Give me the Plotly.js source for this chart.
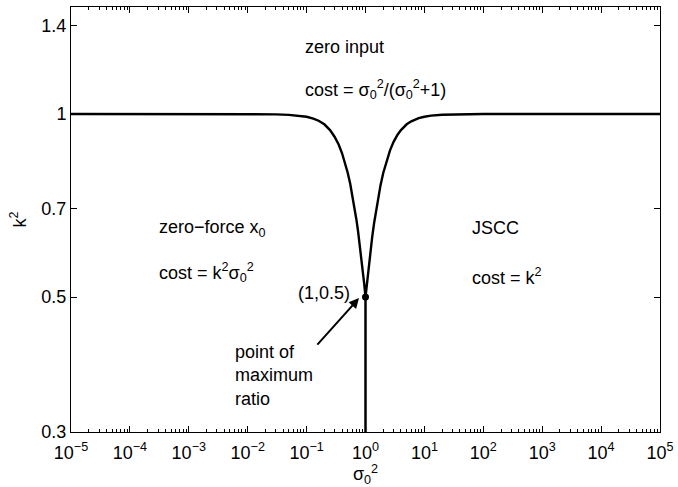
<!DOCTYPE html>
<html>
<head>
<meta charset="utf-8">
<script src="https://cdn.plot.ly/plotly-3.0.1.min.js"></script>
<style>html,body{margin:0;padding:0;background:#fff;}#chart{width:678px;height:487px;}</style>
</head>
<body>
<div id="chart"></div>
<script>
// Boundary curve k^2 vs sigma_0^2
const sigmaLeft = [1e-5, 1e-3, 1e-2, 0.03, 0.05, 0.08, 0.1, 0.13, 0.16, 0.2, 0.25, 0.3, 0.35, 0.4, 0.45, 0.5, 0.55, 0.6, 0.65, 0.7, 0.75, 0.8, 0.85, 0.9, 0.95, 1];
const kLeft     = [1, 1, 1, 0.999, 0.997, 0.994, 0.99, 0.983, 0.975, 0.962, 0.941, 0.917, 0.891, 0.862, 0.832, 0.8, 0.768, 0.735, 0.703, 0.671, 0.64, 0.61, 0.58, 0.552, 0.526, 0.5];
const sigmaRight = [1, 1.05, 1.1, 1.2, 1.3, 1.4, 1.5, 1.6, 1.8, 2, 2.3, 2.6, 3, 3.5, 4, 5, 6, 8, 10, 13, 20, 35, 100, 1000, 1e5];
const kRight     = [0.5, 0.524, 0.548, 0.59, 0.628, 0.662, 0.692, 0.719, 0.764, 0.8, 0.841, 0.871, 0.9, 0.925, 0.941, 0.962, 0.973, 0.985, 0.99, 0.994, 0.9975, 0.999, 1, 1, 1];
// Vertical boundary at sigma_0^2 = 1
const sigmaVert = [1, 1];
const kVert     = [0.3, 0.5];
// Special point
const pointX = [1];
const pointY = [0.5];
// Tick labels
const xExponents = [-5, -4, -3, -2, -1, 0, 1, 2, 3, 4, 5];
const yTickVals = [0.3, 0.5, 0.7, 1, 1.4];
const yTickText = ['0.3', '0.5', '0.7', '1', '1.4'];

const xTickVals = xExponents.map(e => Math.pow(10, e));
const xTickText = xExponents.map(e => '10<sup>' + (e < 0 ? '−' + (-e) : e) + '</sup>');
const xMinorVals = [];
xExponents.slice(0, -1).forEach(e => { for (let m = 2; m <= 9; m++) xMinorVals.push(m * Math.pow(10, e)); });

const FONT = 'Liberation Sans, Arial, Helvetica, sans-serif';
const FS = 18;
const lineStyle = {color: 'black', width: 2.4};

const traces = [
  {x: sigmaLeft.concat(sigmaRight), y: kLeft.concat(kRight), mode: 'lines', line: lineStyle, hoverinfo: 'skip'},
  {x: sigmaVert, y: kVert, mode: 'lines', line: {color: 'black', width: 2.5}, hoverinfo: 'skip'},
  {x: pointX, y: pointY, mode: 'markers', marker: {color: 'black', size: 7}, hoverinfo: 'skip'}
];

const txt = (text, x, y, xa) => ({text, x, y, xref: 'paper', yref: 'paper', xanchor: xa || 'left', yanchor: 'middle', showarrow: false, font: {size: FS, color: 'black', family: FONT}});

const layout = {
  width: 678, height: 487,
  margin: {l: 71, r: 18, t: 7, b: 55},
  paper_bgcolor: 'white', plot_bgcolor: 'white',
  showlegend: false,
  font: {family: FONT, size: FS, color: 'black'},
  xaxis: {
    type: 'log', range: [-5, 5], tickmode: 'array', tickvals: xTickVals, ticktext: xTickText,
    showline: true, linecolor: 'black', linewidth: 1, mirror: 'ticks',
    ticks: 'inside', ticklen: 6, tickcolor: 'black', showgrid: false, zeroline: false,
    ticklabelstandoff: 4,
    minor: {tickmode: 'array', tickvals: xMinorVals, ticks: 'inside', ticklen: 3, tickcolor: 'black', showgrid: false},
    tickfont: {size: FS, family: FONT},
    title: {text: 'σ<sub>0</sub><sup>2</sup>', font: {size: FS, family: FONT}, standoff: 0}
  },
  yaxis: {
    type: 'log', range: [Math.log10(0.3), Math.log10(1.5)],
    tickmode: 'array', tickvals: yTickVals, ticktext: yTickText,
    showline: true, linecolor: 'black', linewidth: 1, mirror: 'ticks',
    ticks: 'inside', ticklen: 6, tickcolor: 'black', showgrid: false, zeroline: false,
    tickfont: {size: FS, family: FONT},
    title: {text: 'k<sup>2</sup>', font: {size: FS, family: FONT}, standoff: 10}
  },
  annotations: [
    txt('zero input', 0.394, 0.906),
    txt('cost = σ<sub>0</sub><sup>2</sup>/(σ<sub>0</sub><sup>2</sup>+1)', 0.394, 0.805),
    txt('zero−force x<sub>0</sub>', 0.146, 0.48),
    txt('cost = k<sup>2</sup>σ<sub>0</sub><sup>2</sup>', 0.146, 0.376),
    txt('JSCC', 0.677, 0.48),
    txt('cost = k<sup>2</sup>', 0.677, 0.365),
    txt('(1,0.5)', 0.477, 0.327, 'right'),
    Object.assign(txt('point of<br>maximum<br>ratio', 0.275, 0.134), {align: 'left'}),
    {x: 0.489, y: 0.315, xref: 'paper', yref: 'paper', ax: -43, ay: 48, axref: 'pixel', ayref: 'pixel',
     showarrow: true, arrowhead: 2, arrowsize: 1, arrowwidth: 2, arrowcolor: 'black', text: ''}
  ]
};

Plotly.newPlot('chart', traces, layout, {displayModeBar: false, staticPlot: true});
</script>
</body>
</html>
